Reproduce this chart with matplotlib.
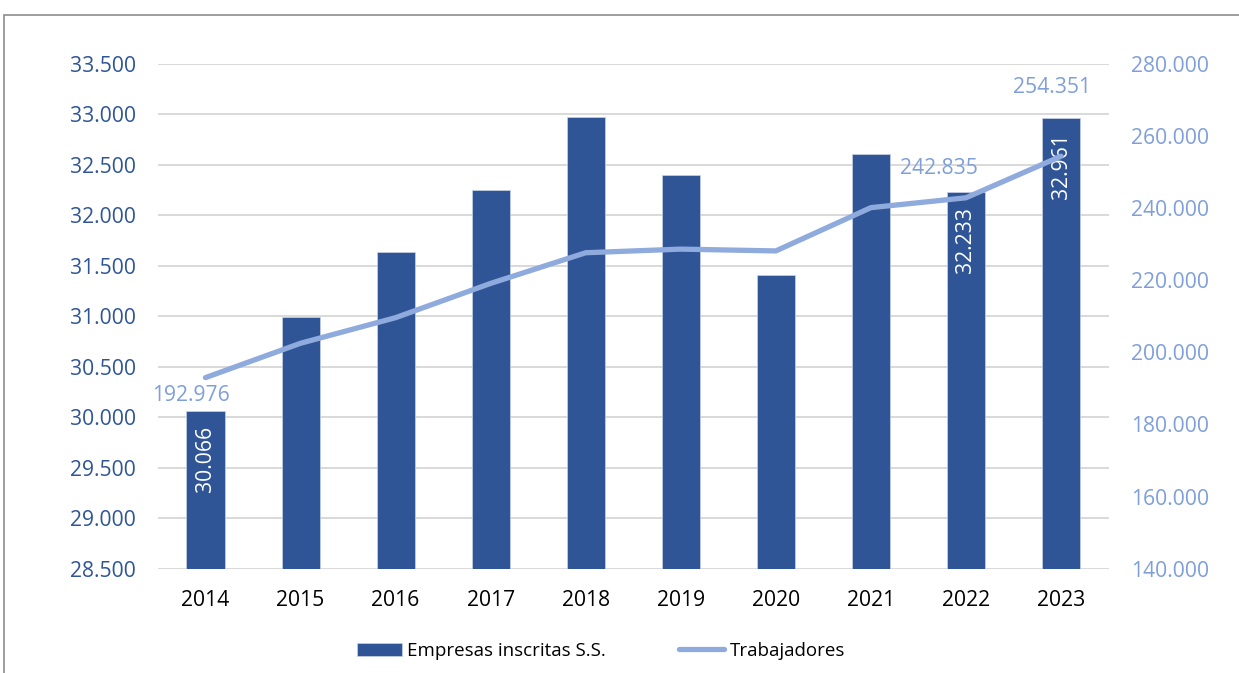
import matplotlib
matplotlib.use("Agg")
import matplotlib.pyplot as plt
from matplotlib.patches import Rectangle
from matplotlib.ticker import FuncFormatter

plt.rcParams["font.family"] = ["Open Sans", "DejaVu Sans"]

# datos
years = ["2014", "2015", "2016", "2017", "2018", "2019", "2020", "2021", "2022", "2023"]
empresas = [30066, 30990, 31636, 32250, 32974, 32395, 31408, 32603, 32233, 32961]
trabajadores = [192976, 202500, 209600, 219100, 227600, 228600, 228100, 240100, 242835, 254351]

# etiquetas visibles (indice -> offset en pixeles)
bar_label_idx = [0, 8, 9]
line_label_off = {0: (-15, -18), 8: (-27, 29), 9: (-9, 69)}

C_BAR = "#2F5597"
C_LINE = "#8FAADC"
C_LINE_TXT = "#7F9FDA"
C_GRID = "#D9D9D9"
FS = 15.2


def miles(v, _pos=None):
    return f"{v:,.0f}".replace(",", ".")


fig = plt.figure(figsize=(12.39, 6.73), dpi=100)
ax = fig.add_axes([0.1275, 0.155, 0.7672, 0.7503])
ax2 = ax.twinx()

x = list(range(len(years)))
bars = ax.bar(x, empresas, width=0.4, color=C_BAR, edgecolor="#C9D3E8", linewidth=0.5,
              label="Empresas inscritas S.S.", zorder=2)
line, = ax2.plot(x, trabajadores, color=C_LINE, linewidth=3.8, solid_capstyle="round",
                 label="Trabajadores", zorder=3)

ax.set_xlim(-0.5, len(years) - 0.5)
ax.set_ylim(28500, 33500)
ax.set_yticks(range(28500, 33501, 500))
ax2.set_ylim(140000, 280000)
ax2.set_yticks(range(140000, 280001, 20000))
ax.yaxis.set_major_formatter(FuncFormatter(miles))
ax2.yaxis.set_major_formatter(FuncFormatter(miles))

ax.set_xticks(x)
ax.set_xticklabels(years)
ax.grid(axis="y", color=C_GRID, linewidth=1.4, zorder=0)
ax.set_axisbelow(True)

for a in (ax, ax2):
    for s in a.spines.values():
        s.set_visible(False)
    a.tick_params(length=0)
ax.tick_params(axis="y", colors=C_BAR, labelsize=FS, pad=16)
ax.tick_params(axis="x", colors="black", labelsize=FS, pad=15)
ax2.tick_params(axis="y", colors=C_LINE_TXT, labelsize=FS, pad=16)

# etiquetas de barras (rotadas, dentro del extremo)
for i in bar_label_idx:
    ax.annotate(miles(empresas[i]), xy=(x[i], empresas[i]), xytext=(0, -15),
                textcoords="offset pixels", rotation=90, ha="center", va="top",
                color="white", fontsize=FS, zorder=4)

# etiquetas de la linea
for i, (dx, dy) in line_label_off.items():
    ax2.annotate(miles(trabajadores[i]), xy=(x[i], trabajadores[i]), xytext=(dx, dy),
                 textcoords="offset pixels", ha="center", va="center",
                 color=C_LINE_TXT, fontsize=FS, zorder=5)

fig.legend(handles=[bars, line], loc="center", bbox_to_anchor=(0.485, 0.033),
           ncol=2, frameon=False, fontsize=13.5, handlelength=2.4, handleheight=0.7,
           handletextpad=0.3, columnspacing=3.9)

# borde exterior (recortado a la derecha y abajo)
fig.add_artist(Rectangle((4 / 1239, -0.1), 1.2, 1.1 - 15.5 / 673,
                         transform=fig.transFigure, fill=False,
                         edgecolor="#8C8C8C", linewidth=1.2))

fig.savefig("out.png", dpi=100)
